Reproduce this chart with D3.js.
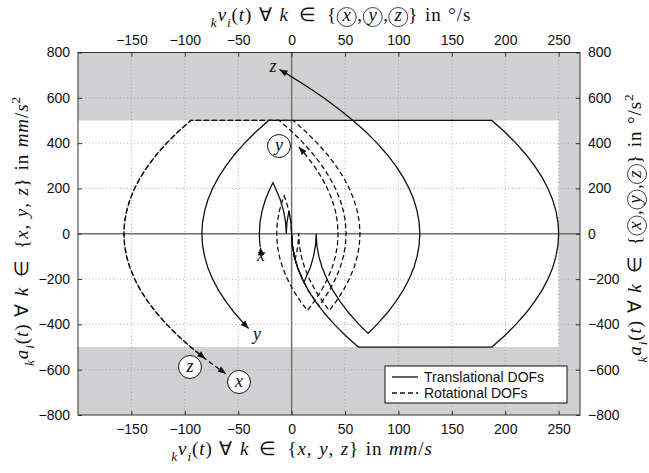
<!DOCTYPE html>
<html><head><meta charset="utf-8">
<script src="https://cdn.jsdelivr.net/npm/d3@7"></script>
<style>body{margin:0;background:#fff}svg{display:block}text.ttl{white-space:pre}</style>
</head><body><svg id="c" width="649" height="473"></svg>
<script>
// ---------------- data ----------------
const xTicks = [-150, -100, -50, 0, 50, 100, 150, 200, 250];
const yTicks = [-800, -600, -400, -200, 0, 200, 400, 600, 800];
const xGrid = [-150, -100, -50, 50, 100, 150, 200, 250];
const yGrid = [-600, -400, -200, 200, 400, 600];
const legendLabels = ["Translational DOFs", "Rotational DOFs"];

// [velocity, acceleration] pairs
const transX = [[-29.3,-59],[-30.0,-30],[-30.2,0],[-29.6,50],[-27.7,100],[-24.6,150],[-20.2,200],[-17.5,225],
  [-15.0,200],[-10.6,150],[-7.5,100],[-5.6,50],[-5.0,0],[-4.4,50],[-2.5,100],[-0.6,50],[0,0]];
const transY = [[-40.3,-418],[-44,-400],[-53.4,-350],[-61.5,-300],[-68.4,-250],[-74,-200],[-78.4,-150],[-81.5,-100],[-83.4,-50],[-84,0],
  [-83.4,50],[-81.5,100],[-78.4,150],[-74,200],[-68.4,250],[-61.5,300],[-53.4,350],[-44,400],[-33.4,450],[-21.5,500],
  [187.5,500],[199.4,450],[210,400],[219.4,350],[227.5,300],[234.4,250],[240,200],[244.4,150],[247.5,100],[249.4,50],[250,0],
  [249.4,-50],[247.5,-100],[244.4,-150],[240,-200],[234.4,-250],[227.5,-300],[219.4,-350],[210,-400],[199.4,-450],[187.5,-500],
  [62.5,-500],[50.6,-450],[40,-400],[30.6,-350],[22.5,-300],[15.6,-250],[10,-200],[5.6,-150],[2.5,-100],[0.6,-50],[0,0]];
const transZ = [[-11.4,725],[-2.5,700],[14.4,650],[30,600],[44.4,550],[57.5,500],[69.4,450],[80,400],[89.4,350],[97.5,300],[104.4,250],
  [110,200],[114.4,150],[117.5,100],[119.4,50],[120,0],[119.4,-50],[117.5,-100],[114.4,-150],[110,-200],[104.4,-250],[97.5,-300],
  [89.4,-350],[80,-400],[71.6,-440],
  [63,-400],[53.6,-350],[45.5,-300],[38.6,-250],[33,-200],[28.6,-150],[25.5,-100],[23.6,-50],[23,0],
  [22.4,-50],[20.5,-100],[17.4,-150],[11.5,-214],[5.6,-150],[2.5,-100],[0.6,-50],[0,0]];
const rotX = [[-61.5,-618],[-67,-600],[-81.4,-550],[-94.5,-500],[-106.4,-450],[-117,-400],[-126.4,-350],[-134.5,-300],[-141.4,-250],
  [-147,-200],[-151.4,-150],[-154.5,-100],[-156.4,-50],[-157,0],[-156.4,50],[-154.5,100],[-151.4,150],[-147,200],[-141.4,250],
  [-134.5,300],[-126.4,350],[-117,400],[-106.4,450],[-94.5,500],
  [1.5,500],[13.4,450],[24,400],[33.4,350],[41.5,300],[48.4,250],[54,200],[58.4,150],[61.5,100],[63.4,50],[64,0],
  [63.4,-50],[61.5,-100],[58.4,-150],[54,-200],[48.4,-250],[41.5,-300],[35.3,-339],
  [29.1,-300],[22.2,-250],[16.6,-200],[12.2,-150],[9.1,-100],[7.2,-50],[6.6,0],[6.0,-50],[3.3,-115],[0.6,-50],[0,0]];
const rotY = [[6.8,383],[12.9,350],[21,300],[27.9,250],[33.5,200],[37.9,150],[41,100],[42.9,50],[43.5,0],[42.9,-50],[41,-100],
  [37.9,-150],[33.5,-200],[27.9,-250],[21,-300],[14.8,-339],
  [8.5,-300],[1.6,-250],[-4,-200],[-8.4,-150],[-11.5,-100],[-13.4,-50],[-14,0],[-13.4,50],[-11.5,100],[-8.4,150],[-7.0,167],
  [-5.6,150],[-2.5,100],[-0.6,50],[0,0]];
const rotZ = [[-80.8,-552],[-94.5,-500],[-106.4,-450],[-117,-400],[-126.4,-350],[-134.5,-300],[-141.4,-250],
  [-147,-200],[-151.4,-150],[-154.5,-100],[-156.4,-50],[-157,0],[-156.4,50],[-154.5,100],[-151.4,150],[-147,200],[-141.4,250],
  [-134.5,300],[-126.4,350],[-117,400],[-106.4,450],[-94.5,500],
  [-11.5,500],[0.4,450],[11,400],[20.4,350],[28.5,300],[35.4,250],[41,200],[45.4,150],[48.5,100],[50.4,50],[51,0],
  [50.4,-50],[48.5,-100],[45.4,-150],[41,-200],[35.4,-250],[28.5,-300],[25.5,-319],
  [22.5,-300],[15.6,-250],[10,-200],[5.6,-150],[2.5,-100],[0.6,-50],[0,0]];

// ---------------- layout ----------------
const L = 78, R = 580, T = 52.5, B = 415;
const x = d3.scaleLinear().domain([-200, 270]).range([L, R]);
const y = d3.scaleLinear().domain([-800, 800]).range([B, T]);
const svg = d3.select("#c");
const tickFont = "Liberation Sans, Arial, sans-serif";
const serif = "Liberation Serif, Times New Roman, serif";

svg.append("rect").attr("x", L).attr("y", T).attr("width", R - L).attr("height", B - T).attr("fill", "#d1d1d3");
svg.append("rect").attr("x", x(-200)).attr("y", y(500)).attr("width", x(250) - x(-200)).attr("height", y(-500) - y(500)).attr("fill", "#fff");

// grid
const grid = svg.append("g").attr("stroke", "#9a9a9a").attr("stroke-width", 0.8).attr("stroke-dasharray", "1,2.5");
grid.selectAll(".gx").data(xGrid).join("line").attr("x1", d => x(d)).attr("x2", d => x(d)).attr("y1", T).attr("y2", B);
grid.selectAll(".gy").data(yGrid).join("line").attr("y1", d => y(d)).attr("y2", d => y(d)).attr("x1", L).attr("x2", R);
// zero lines
svg.append("line").attr("x1", x(0)).attr("x2", x(0)).attr("y1", T).attr("y2", B).attr("stroke", "#6e6e6e").attr("stroke-width", 1.4);
svg.append("line").attr("x1", L).attr("x2", R).attr("y1", y(0)).attr("y2", y(0)).attr("stroke", "#6e6e6e").attr("stroke-width", 1.4);

// axes (ticks inward)
function styleAxis(g) {
  g.select(".domain").remove();
  g.selectAll("line").attr("stroke", "#333");
  g.selectAll("text").attr("font-family", tickFont).attr("font-size", 14).attr("fill", "#111");
}
svg.append("g").attr("transform", `translate(0,${B})`)
  .call(d3.axisBottom(x).tickValues(xTicks).tickSizeInner(-4).tickSizeOuter(0).tickPadding(9).tickFormat(d3.format("d"))).call(styleAxis);
svg.append("g").attr("transform", `translate(0,${T})`)
  .call(d3.axisTop(x).tickValues(xTicks).tickSizeInner(-4).tickSizeOuter(0).tickPadding(8).tickFormat(d3.format("d"))).call(styleAxis);
svg.append("g").attr("transform", `translate(${L},0)`)
  .call(d3.axisLeft(y).tickValues(yTicks).tickSizeInner(-4).tickSizeOuter(0).tickPadding(8).tickFormat(d3.format("d"))).call(styleAxis);
svg.append("g").attr("transform", `translate(${R},0)`)
  .call(d3.axisRight(y).tickValues(yTicks).tickSizeInner(-4).tickSizeOuter(0).tickPadding(8).tickFormat(d3.format("d"))).call(styleAxis);

svg.append("rect").attr("x", L).attr("y", T).attr("width", R - L).attr("height", B - T)
  .attr("fill", "none").attr("stroke", "#333").attr("stroke-width", 1);

// curves
const line = d3.line().x(d => x(d[0])).y(d => y(d[1]));
const plot = svg.append("g");
[transX, transY, transZ].forEach(c => plot.append("path").attr("d", line(c)).attr("fill", "none").attr("stroke", "#111").attr("stroke-width", 1.3));
[rotX, rotY, rotZ].forEach(c => plot.append("path").attr("d", line(c)).attr("fill", "none").attr("stroke", "#111").attr("stroke-width", 1.3).attr("stroke-dasharray", "5,3"));

// start arrows
function arrow(c, reverse) {
  const p0 = [x(c[0][0]), y(c[0][1])], p1 = [x(c[1][0]), y(c[1][1])];
  let dx = p1[0] - p0[0], dy = p1[1] - p0[1];
  if (reverse) { dx = -dx; dy = -dy; }
  const ang = Math.atan2(dy, dx) * 180 / Math.PI;
  plot.append("path").attr("d", "M0,0 L-8,-3.2 L-8,3.2 Z").attr("fill", "#111")
    .attr("transform", `translate(${p0[0]},${p0[1]}) rotate(${ang})`);
}
arrow(transX, false); arrow(transY, true); arrow(transZ, true);
arrow(rotX, true); arrow(rotY, true); arrow(rotZ, true);

// curve labels
function lab(px, py, t, circ) {
  if (circ) svg.append("circle").attr("cx", px).attr("cy", py).attr("r", 11.5).attr("fill", "#fff").attr("stroke", "#111").attr("stroke-width", 1);
  svg.append("text").attr("x", px).attr("y", py + 5).attr("text-anchor", "middle").attr("font-family", serif)
    .attr("font-style", "italic").attr("font-size", 18).attr("fill", "#111").text(t);
}
lab(261, 256, "x", false);
lab(257, 335, "y", false);
lab(273, 67, "z", false);
lab(279, 146, "y", true);
lab(190, 367, "z", true);
lab(239, 382, "x", true);

// legend
const lg = svg.append("g");
lg.append("rect").attr("x", 385).attr("y", 366).attr("width", 182).attr("height", 37).attr("fill", "#fff").attr("stroke", "#111").attr("stroke-width", 1);
const lgY = [377, 393];
lg.selectAll(".ll").data(legendLabels).join("line").attr("x1", 392).attr("x2", 418).attr("y1", (d, i) => lgY[i]).attr("y2", (d, i) => lgY[i])
  .attr("stroke", "#111").attr("stroke-width", 1.3).attr("stroke-dasharray", (d, i) => i ? "5,3" : null);
lg.selectAll(".lt").data(legendLabels).join("text").attr("x", 424).attr("y", (d, i) => lgY[i] + 5).attr("font-family", tickFont)
  .attr("font-size", 14).attr("fill", "#111").text(d => d);

// LaTeX-like titles
function title(g, parts, size, anchor) {
  const t = g.append("text").attr("class", "ttl").attr("font-family", serif).attr("font-size", size).attr("fill", "#111")
    .attr("text-anchor", anchor).attr("letter-spacing", 0.9).attr("word-spacing", 1.0);
  let idx = 0; const circ = [];
  let shift = 0, padNext = 0;
  parts.forEach(p => {
    const sp = t.append("tspan").text(p.s);
    if (p.i) sp.attr("font-style", "italic");
    const target = p.sub ? size * 0.3 : (p.sup ? -size * 0.4 : 0);
    sp.attr("dy", target - shift); shift = target;
    if (p.sub || p.sup) sp.attr("font-size", size * 0.7);
    let dx = padNext + (p.gap || 0); padNext = 0;
    if (p.c) { circ.push(idx); dx += 5.5; padNext = 5.5; }
    if (dx) sp.attr("dx", dx);
    idx += p.s.length;
  });
  const node = t.node();
  circ.forEach(ci => {
    const e = node.getExtentOfChar(ci);
    g.append("circle").attr("cx", e.x + (e.width - 0.9) / 2).attr("cy", e.y + e.height * 0.62).attr("r", size * 0.5)
      .attr("fill", "none").attr("stroke", "#111").attr("stroke-width", 0.8);
  });
}
const head = [{s: "k", i: 1, sub: 1}, {s: "v", i: 1}, {s: "i", i: 1, sub: 1}, {s: "("}, {s: "t", i: 1}, {s: ") ∀ "}, {s: "k", i: 1}, {s: " "}, {s: "∈", gap: 3.5}, {s: " {", gap: 3.5}];
const headA = [{s: "k", i: 1, sub: 1}, {s: "a", i: 1}, {s: "i", i: 1, sub: 1}, {s: "("}, {s: "t", i: 1}, {s: ") ∀ "}, {s: "k", i: 1}, {s: " "}, {s: "∈", gap: 3.5}, {s: " {", gap: 3.5}];
const circParts = [{s: "x", i: 1, c: 1}, {s: ","}, {s: "y", i: 1, c: 1}, {s: ","}, {s: "z", i: 1, c: 1}, {s: "} in °/s"}];
const mmParts = [{s: "x", i: 1}, {s: ", "}, {s: "y", i: 1}, {s: ", "}, {s: "z", i: 1}, {s: "} in "}, {s: "mm", i: 1}, {s: "/"}, {s: "s", i: 1}];

title(svg.append("g").attr("transform", "translate(341,21)"), head.concat(circParts), 19, "middle");
title(svg.append("g").attr("transform", "translate(302,455)"), head.concat(mmParts), 19, "middle");
title(svg.append("g").attr("transform", "translate(28,231) rotate(-90)"), headA.concat(mmParts, [{s: "2", sup: 1}]), 19, "middle");
title(svg.append("g").attr("transform", "translate(641,228) rotate(-90)"), headA.concat(circParts, [{s: "2", sup: 1}]), 19, "middle");
</script></body></html>
